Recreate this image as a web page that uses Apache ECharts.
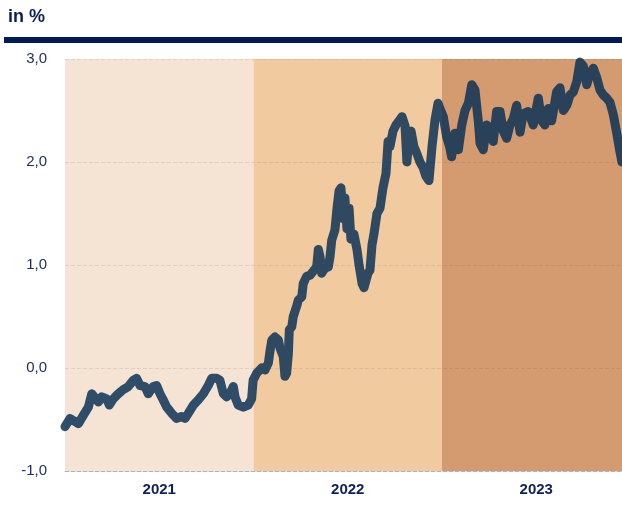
<!DOCTYPE html>
<html>
<head>
<meta charset="utf-8">
<script src="https://cdn.jsdelivr.net/npm/echarts@6/dist/echarts.min.js"></script>
<style>
html,body{margin:0;padding:0;background:#fff;}
#chart{width:622px;height:509px;}
</style>
</head>
<body>
<div id="chart"></div>
<script>
// Time positions in fractional years
const dates = [
2021.000,2021.027,2021.053,2021.071,2021.097,2021.124,2021.142,2021.159,2021.177,2021.195,
2021.221,2021.235,2021.256,2021.283,2021.309,2021.336,2021.362,2021.380,2021.398,2021.424,
2021.442,2021.468,2021.486,2021.504,2021.521,2021.540,2021.566,2021.593,2021.619,2021.637,
2021.654,2021.681,2021.707,2021.734,2021.760,2021.778,2021.805,2021.822,2021.840,2021.858,
2021.875,2021.893,2021.902,2021.919,2021.946,2021.972,2021.990,
2021.998,2022.017,2022.044,2022.061,2022.079,2022.088,2022.097,2022.114,2022.132,2022.141,
2022.158,2022.167,2022.176,2022.185,2022.190,2022.203,2022.211,2022.229,2022.238,2022.256,
2022.264,2022.282,2022.300,2022.317,2022.335,2022.344,2022.353,2022.362,2022.379,2022.397,
2022.406,2022.415,2022.432,2022.443,2022.454,2022.464,2022.475,2022.485,2022.496,2022.507,
2022.517,2022.533,2022.549,2022.560,2022.576,2022.586,2022.597,2022.607,2022.618,2022.629,
2022.639,2022.655,2022.671,2022.687,2022.703,2022.714,2022.724,2022.740,2022.756,2022.772,
2022.788,2022.804,2022.814,2022.825,2022.836,2022.851,2022.867,2022.883,2022.899,2022.915,
2022.931,2022.947,2022.963,2022.979,2022.989,
2023.007,2023.025,2023.042,2023.051,2023.069,2023.087,2023.105,2023.122,2023.140,2023.158,
2023.175,2023.193,2023.202,2023.219,2023.237,2023.255,2023.272,2023.290,2023.308,2023.325,
2023.343,2023.361,2023.378,2023.396,2023.414,2023.431,2023.458,2023.484,2023.511,2023.529,
2023.546,2023.564,2023.582,2023.608,2023.626,2023.644,2023.662,2023.679,2023.697,2023.715,
2023.732,2023.750,2023.768,2023.785,2023.803,2023.821,2023.838,2023.856,2023.874,2023.891,
2023.909,2023.927,2023.944,2023.955
];
// Values in %
const values = [
-0.57,-0.49,-0.52,-0.54,-0.46,-0.38,-0.25,-0.29,-0.33,-0.28,
-0.30,-0.36,-0.30,-0.25,-0.21,-0.18,-0.12,-0.10,-0.17,-0.18,
-0.25,-0.18,-0.17,-0.25,-0.31,-0.38,-0.44,-0.49,-0.47,-0.49,
-0.44,-0.36,-0.31,-0.25,-0.17,-0.10,-0.10,-0.12,-0.25,-0.28,
-0.25,-0.18,-0.28,-0.36,-0.38,-0.36,-0.30,
-0.12,-0.05,0.00,-0.02,0.05,0.17,0.27,0.30,0.27,0.19,
0.11,-0.08,-0.05,0.14,0.37,0.40,0.50,0.60,0.66,0.69,
0.82,0.89,0.90,0.94,0.98,1.15,1.08,0.92,0.97,0.98,
1.08,1.24,1.34,1.55,1.72,1.75,1.45,1.65,1.35,1.55,
1.25,1.30,1.15,1.00,0.82,0.78,0.85,0.92,0.95,1.20,
1.30,1.50,1.55,1.75,1.89,2.20,2.15,2.30,2.36,2.40,
2.44,2.35,2.00,2.25,2.30,2.15,2.08,2.00,1.95,1.86,
1.82,2.15,2.41,2.57,2.52,
2.44,2.24,2.14,2.05,2.28,2.12,2.36,2.50,2.57,2.75,
2.70,2.39,2.18,2.12,2.36,2.33,2.20,2.49,2.49,2.30,
2.23,2.36,2.42,2.55,2.29,2.47,2.49,2.36,2.62,2.40,
2.36,2.52,2.40,2.68,2.72,2.50,2.55,2.65,2.68,2.78,
2.97,2.93,2.75,2.86,2.91,2.82,2.70,2.65,2.62,2.58,
2.46,2.28,2.10,2.00
];
const yearLabels = ['2021','2022','2023'];
const yearStarts = [2021, 2022, 2023];
const xMax = 2023.955;
const bandColors = ['#f5e4d3', '#f1ca9f', '#d49a70'];

const chart = echarts.init(document.getElementById('chart'), null, {renderer:'canvas'});
const seriesData = dates.map((d,i)=>[d, values[i]]);
const bands = yearStarts.map((s,i)=>[
  {xAxis: s, itemStyle:{color: bandColors[i], opacity:1}},
  {xAxis: Math.min(s+1, xMax)}
]);

chart.setOption({
  animation:false,
  backgroundColor:'#fff',
  grid:{left:65, right:0, top:59, bottom:38},
  graphic:[
    {type:'text', left:8, top:8, style:{text:'in %', font:'bold 18px "Liberation Sans", Arial, sans-serif', fill:'#0d1f4f'}},
    {type:'rect', shape:{x:4, y:37, width:618, height:6}, style:{fill:'#001a57'}}
  ],
  xAxis:{
    type:'value', min:2021, max:xMax, interval:0.5, z:2,
    axisLine:{show:true, onZero:false, lineStyle:{color:'#aab3c5', type:'dashed', width:1}},
    axisTick:{show:false},
    splitLine:{show:false},
    axisLabel:{
      margin:11, showMaxLabel:false, showMinLabel:true,
      color:'#0d2259', fontWeight:'bold', fontSize:15, fontFamily:'"Liberation Sans", Arial, sans-serif',
      formatter:function(v){
        const f = v - Math.floor(v);
        if (Math.abs(f-0.5) < 0.01) { const idx = Math.floor(v) - 2021; return yearLabels[idx] || ''; }
        return '';
      }
    }
  },
  yAxis:{
    type:'value', min:-1, max:3, interval:1, z:2,
    axisLine:{show:false}, axisTick:{show:false},
    splitLine:{show:true, lineStyle:{color:'rgba(110,90,80,0.15)', type:'dashed', width:1}},
    axisLabel:{
      margin:18, color:'#1c2b5a', fontSize:15, fontFamily:'"Liberation Sans", Arial, sans-serif',
      formatter:function(v){ return v.toFixed(1).replace('.', ','); }
    }
  },
  series:[
    {
      type:'line', z:0, data:[], silent:true,
      markArea:{silent:true, z:0, data:bands}
    },
    {
      type:'line', z:3, data:seriesData, showSymbol:false, symbol:'none',
      lineStyle:{color:'#0c3255', width:9, opacity:0.85, cap:'round', join:'round'},
      itemStyle:{color:'#0c3255'}
    }
  ]
});
</script>
</body>
</html>
